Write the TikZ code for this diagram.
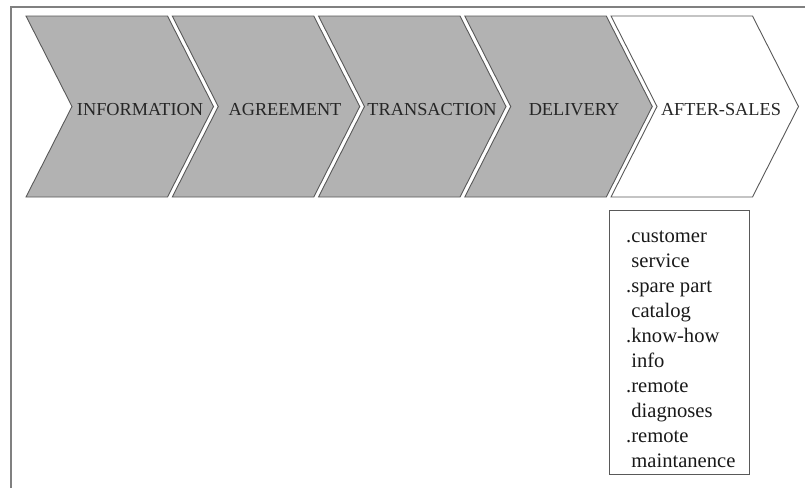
\documentclass[tikz,border=0pt]{standalone}
\usepackage{fontspec}
\setmainfont{Liberation Serif}
\begin{document}
\begin{tikzpicture}[x=1pt,y=-1pt,
  chev/.style={draw=black!65,line width=0.9pt,line join=miter},
  grayfill/.style={fill=black!30},
  whitefill/.style={fill=white},
  chevlabel/.style={anchor=base,inner sep=0pt,text=black!85,font=\fontsize{18.3}{22}\selectfont},
  frameline/.style={draw=black!50,line width=1.6pt},
  listbox/.style={draw=black!65,line width=0.9pt}]
\useasboundingbox (0,0) rectangle (805,488);
% outer frame (top and left edges)
\draw[frameline] (11,488) -- (11,7) -- (805,7);
% chevrons
\foreach \i/\f in {0/grayfill,1/grayfill,2/grayfill,3/grayfill,4/whitefill}{
  \pgfmathsetmacro{\xo}{26+146.25*\i}
  \draw[chev,\f] (\xo,16) -- ++(141.5,0) -- ++(46,90.5) -- ++(-46,90.5)
     -- ++(-141.5,0) -- ++(46,-90.5) -- cycle;
}
\node[chevlabel] (info) at (140,115) {INFORMATION};
\node[chevlabel] (agree) at (285,115) {AGREEMENT};
\node[chevlabel] (trans) at (432,115) {TRANSACTION};
\node[chevlabel] (deliv) at (574,115) {DELIVERY};
\node[chevlabel] (after) at (721,115) {AFTER-SALES};
% list box
\draw[listbox] (609,210) rectangle (749,474);
\node[anchor=base west,inner sep=0pt,align=left,text=black!90,
      font=\fontsize{20.6}{25}\selectfont] (list) at (626,467)
 {.customer\\\phantom{.}service\\.spare part\\\phantom{.}catalog\\.know-how\\\phantom{.}info\\.remote\\\phantom{.}diagnoses\\.remote\\\phantom{.}maintanence};
\end{tikzpicture}
\end{document}
